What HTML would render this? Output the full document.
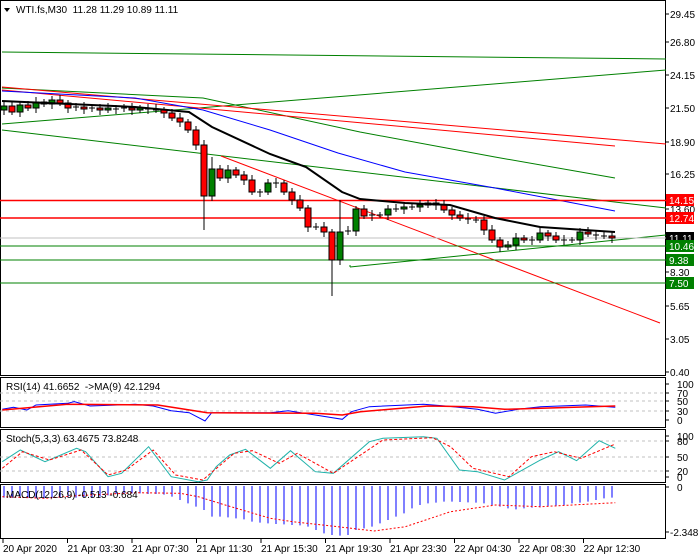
<!DOCTYPE html>
<html><head><meta charset="utf-8"><style>
html,body{margin:0;padding:0;background:#fff}
svg{display:block;font-family:"Liberation Sans",sans-serif}
</style></head><body>
<svg id="s" width="700" height="560" xmlns="http://www.w3.org/2000/svg"></svg>
<script>
var s=document.getElementById('s');var h='';
function L(x1,y1,x2,y2,c,w,d){h+='<line x1="'+x1+'" y1="'+y1+'" x2="'+x2+'" y2="'+y2+'" stroke="'+c+'" stroke-width="'+(w||1)+'"'+(d?' stroke-dasharray="'+d+'"':'')+'/>';}
function P(pts,c,w,d){h+='<polyline fill="none" points="'+pts.map(p=>p[0].toFixed(1)+','+p[1].toFixed(1)).join(' ')+'" stroke="'+c+'" stroke-width="'+(w||1)+'"'+(d?' stroke-dasharray="'+d+'"':'')+'/>';}
function T(x,y,t,c,sz,a){h+='<text x="'+x+'" y="'+y+'" fill="'+(c||'#000')+'" font-size="'+(sz||10)+'"'+(a?' text-anchor="'+a+'"':'')+'>'+t+'</text>';}
function Z(a){return a.map(p=>[p[0]/2.22,370+p[1]/3]);}
// panel borders
h+='<rect x="0.5" y="0.5" width="665" height="375" fill="none" stroke="#000"/>';
h+='<rect x="0.5" y="377.5" width="665" height="50" fill="none" stroke="#000"/>';
h+='<rect x="0.5" y="429.5" width="665" height="53" fill="none" stroke="#000"/>';
h+='<rect x="0.5" y="484.5" width="665" height="54" fill="none" stroke="#000"/>';
// price axis labels
[[29.45,14],[26.80,42],[24.15,75],[21.50,108],[18.90,142],[16.25,174],[13.60,209],[8.30,272],[5.65,306],[3.05,339],[0.40,372]].forEach(a=>{L(665,a[1],669,a[1],'#000');T(670,a[1]+4,a[0].toFixed(2),'#000',10);});
// trend lines
L(2,52,666,59,'#008000');L(2,124,666,70,'#008000');L(2,130,666,208,'#008000');
P([[2,88],[203,98],[360,132],[495,157],[615,178]],'#008000');
L(2,87,666,144,'#ff0000');L(2,90,615,146,'#ff0000');
P([[2,91],[135,98],[203,110],[270,130],[338,153],[405,172],[495,188],[615,211]],'#0000ff');
L(221,156,660,323,'#ff0000');
L(350,267,666,235,'#008000');L(350,267,350,265,'#008000');
L(0,200.5,666,200.5,'#ff0000',1.5);L(0,218,666,218,'#ff0000',1.5);
L(0,238,666,238,'#c0c0c0');L(0,246,666,246,'#008000');L(0,260,666,260,'#008000');L(0,283,666,283,'#008000');
// candles
var C=[110,106,112,105,108,102,104,100,103,108,107,109,108,110,108,109,108,110,108,109,110,113,118,122,130,145,196,169,178,170,175,180,192,192,183,183,192,200,208,227,227,232,260,232,231,209,216,215,215,209,209,207,207,205,203,205,210,215,218,219,220,230,240,247,245,238,240,240,233,236,240,240,240,232,234,235,236,238];
for(var i=1;i<C.length;i++){var x=4+8*(i-1);var o=C[i-1],c=C[i];if(i==26)o=145;var hi=Math.min(o,c)-3-(i%3),lo=Math.max(o,c)+3+(i%2)*2;
 if(i==26)lo=230;if(i==42)lo=296;if(i==43)hi=200;if(i==27)hi=157;
 L(x,hi,x,lo,'#000');
 if(Math.abs(o-c)<1.5){L(x-3,c,x+3,c,'#000');}
 else{var col=c<o?'#008000':'#ff0000';h+='<rect x="'+(x-3)+'" y="'+Math.min(o,c)+'" width="6" height="'+Math.abs(o-c)+'" fill="'+col+'" stroke="#000" stroke-width="1"/>';}
}
P([[2,101],[135,107],[189,112],[212,127],[270,154],[306,167],[342,192],[360,199],[405,203],[450,205],[495,218],[540,227],[615,232]],'#000',2);
// right labels
function B(y,t,bg,fg){h+='<rect x="666" y="'+(y-6)+'" width="28" height="12" fill="'+bg+'"/>';T(669,y+4,t,fg||'#fff',10);}
B(200,'14.15','#ff0000');B(218,'12.74','#ff0000');B(238,'11.11','#000');B(246,'10.46','#008000');B(260,'9.38','#008000');B(283,'7.50','#008000');
h+='<polygon points="4,8 10,8 7,12" fill="#000"/>';
T(16,13,'WTI.fs,M30&#160; 11.28 11.29 10.89 11.11','#000',10);
// RSI
[[100,384],[70,393],[50,401],[30,411],[0,420]].forEach(a=>{if(a[0]>0&&a[0]<100)L(0,a[1],665,a[1],'#c0c0c0',1,'3,3');L(665,a[1],669,a[1],'#000');T(677,a[1]+4,a[0],'#000',10);});
P(Z([[5,118],[30,112],[60,120],[80,105],[150,100],[165,95],[200,108],[300,103],[340,108],[380,122],[420,128],[455,153],[470,128],[600,128],[640,122],[700,135],[760,148],[780,125],[820,110],[940,103],[990,108],[1060,118],[1100,130],[1150,118],[1200,110],[1300,105],[1350,110],[1366,112]]),'#0000ff');
P(Z([[5,120],[150,103],[350,105],[460,128],[700,130],[760,135],[800,125],[950,108],[1050,110],[1120,118],[1366,108]]),'#ff0000',1.5);
T(6,390,'RSI(14) 41.6652&#160; -&gt;MA(9) 42.1294','#000',10);
// Stoch
[[100,436],[80,441],[50,457],[20,471],[0,477]].forEach(a=>{if(a[0]>0&&a[0]<100)L(0,a[1],665,a[1],'#c0c0c0',1,'3,3');L(665,a[1],669,a[1],'#000');T(677,a[1]+4,a[0],'#000',10);});
P(Z([[5,275],[45,240],[100,275],[170,235],[190,245],[240,320],[270,310],[330,230],[380,320],[440,335],[460,330],[480,290],[510,255],[545,238],[600,295],[645,242],[700,305],[740,310],[820,215],[850,205],[940,200],[970,205],[1020,300],[1060,305],[1120,330],[1200,270],[1240,245],[1280,272],[1330,212],[1366,235]]),'#20b2aa');
P(Z([[5,295],[50,245],[110,270],[180,240],[240,315],[280,300],[340,240],[390,315],[450,330],[520,250],[560,242],[620,280],[660,250],[740,310],[850,210],[960,203],[1000,230],[1050,295],[1130,320],[1180,260],[1230,245],[1290,265],[1366,222]]),'#ff0000',1,'3,2');
T(6,442,'Stoch(5,3,3) 63.4675 73.8248','#000',10);
// MACD
var M=[383,383,384,384,385,385,384,384,383,383,382,382,380,376,372,370,370,370,372,372,374,380,390,400,410,420,440,440,442,445,448,455,458,460,462,463,465,466,470,480,490,495,497,495,480,475,470,460,450,440,430,415,405,400,398,395,395,396,397,398,400,405,410,415,418,415,413,412,410,408,405,400,398,395,390,385,383];
M.forEach((v,i)=>{var x=4+8*i;L(x,486,x,370+v/3,'#0000ff');});
P(Z([[5,380],[100,385],[160,378],[300,368],[400,370],[440,380],[500,405],[600,445],[650,455],[750,470],[830,483],[900,470],[1000,425],[1100,405],[1200,410],[1366,398]]),'#ff0000',1,'2,2');
L(665,487,669,487,'#000');T(677,491,'0','#000',10);L(665,532,669,532,'#000');T(670,536,'-2.348','#000',10);
T(6,498,'MACD(12,26,9) -0.513 -0.684','#000',10);
// time axis
['20 Apr 2020','21 Apr 03:30','21 Apr 07:30','21 Apr 11:30','21 Apr 15:30','21 Apr 19:30','21 Apr 23:30','22 Apr 04:30','22 Apr 08:30','22 Apr 12:30'].forEach((t,i)=>{var x=3+i*64.5;L(x,539,x,543,'#000');T(x,552,t,'#000',10);});
s.innerHTML=h;
</script>
</body></html>
